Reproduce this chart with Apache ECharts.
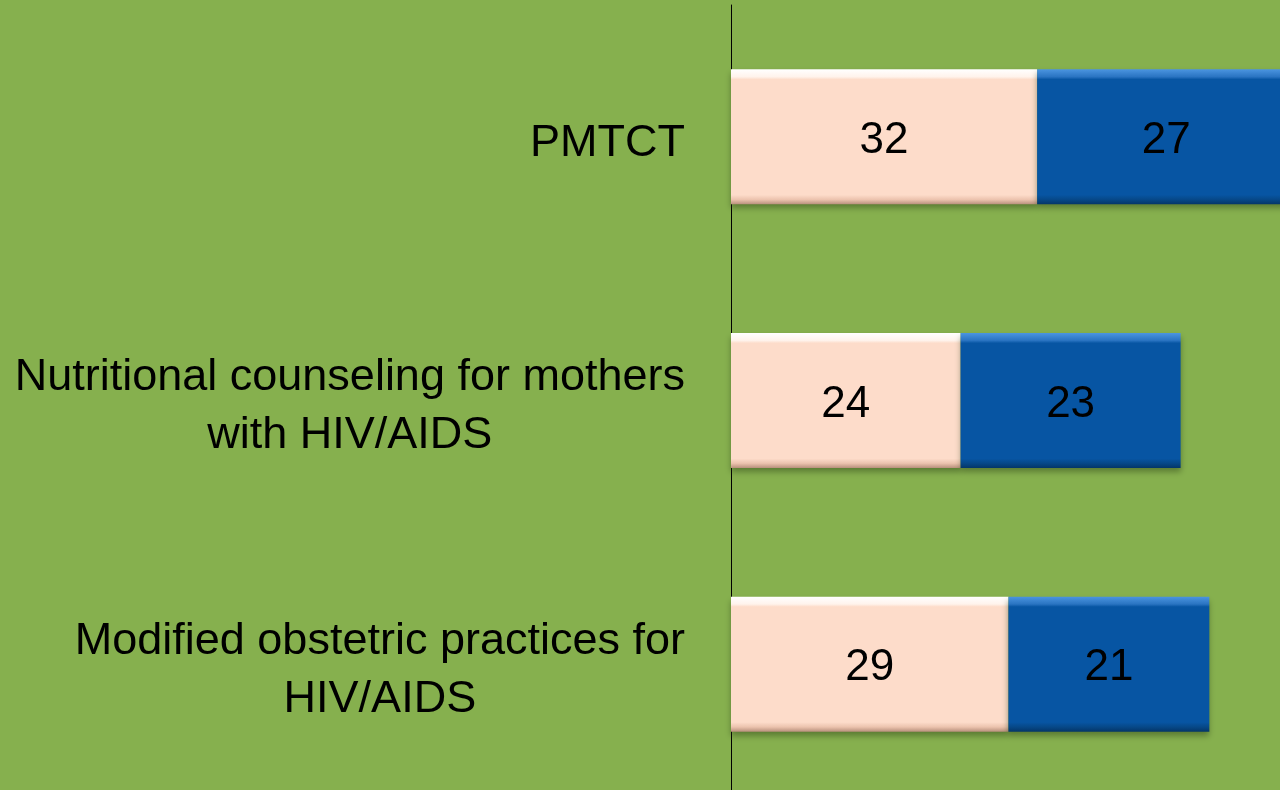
<!DOCTYPE html>
<html>
<head>
<meta charset="utf-8">
<script src="https://cdn.jsdelivr.net/npm/echarts@6/dist/echarts.min.js"></script>
<style>
  html, body { margin: 0; padding: 0; background: #86B04E; }
  #chart { width: 1280px; height: 790px; }
</style>
</head>
<body>
<div id="chart"></div>
<script>
// Service categories, top to bottom
const categories = [
  'PMTCT',
  'Nutritional counseling for mothers\nwith HIV/AIDS',
  'Modified obstetric practices for\nHIV/AIDS'
];
// First segment (light) and second segment (blue)
const seriesA = [32, 24, 29];
const seriesB = [27, 23, 21];

const FONT = '"Liberation Sans", Arial, sans-serif';

function bevel(top, hi, base, low, bottom) {
  return {
    type: 'linear', x: 0, y: 0, x2: 0, y2: 1,
    colorStops: [
      { offset: 0, color: top },
      { offset: 0.055, color: hi },
      { offset: 0.075, color: base },
      { offset: 0.93, color: base },
      { offset: 0.965, color: low },
      { offset: 1, color: bottom }
    ]
  };
}

const chart = echarts.init(document.getElementById('chart'));
chart.setOption({
  backgroundColor: '#86B04E',
  animation: false,
  grid: { left: 731, top: 5, height: 791, width: 574, outerBoundsMode: 'none', containLabel: false },
  xAxis: {
    type: 'value', min: 0, max: 60,
    show: false, splitLine: { show: false }
  },
  yAxis: {
    type: 'category',
    data: categories,
    inverse: true,
    axisLine: { show: true, lineStyle: { color: '#000', width: 1 } },
    axisTick: { show: false },
    axisLabel: {
      margin: 46,
      fontFamily: FONT,
      fontSize: 45,
      color: '#000',
      formatter: v => v.split('\n').map(s => '{c|' + s + '}').join('\n'),
      rich: {
        c: { align: 'center', verticalAlign: 'bottom', fontFamily: FONT, fontSize: 45, color: '#000', lineHeight: 58 }
      }
    }
  },
  series: [
    {
      type: 'bar', stack: 'total', data: seriesA, barWidth: 135,
      itemStyle: {
        color: bevel('#ffffff', '#fff3ec', '#FDDCCA', '#ecc3ae', '#b8907c'),
        shadowColor: 'rgba(40,60,20,0.45)', shadowBlur: 6, shadowOffsetY: 4
      },
      label: { show: true, position: 'inside', offset: [0, 4], color: '#000', fontFamily: FONT, fontSize: 44 }
    },
    {
      type: 'bar', stack: 'total', data: seriesB, barWidth: 135,
      itemStyle: {
        color: bevel('#4b95e0', '#2a74c2', '#0755A3', '#064888', '#043668'),
        shadowColor: 'rgba(40,60,20,0.45)', shadowBlur: 6, shadowOffsetY: 4
      },
      label: { show: true, position: 'inside', offset: [0, 4], color: '#000', fontFamily: FONT, fontSize: 44 }
    }
  ]
});
</script>
</body>
</html>
